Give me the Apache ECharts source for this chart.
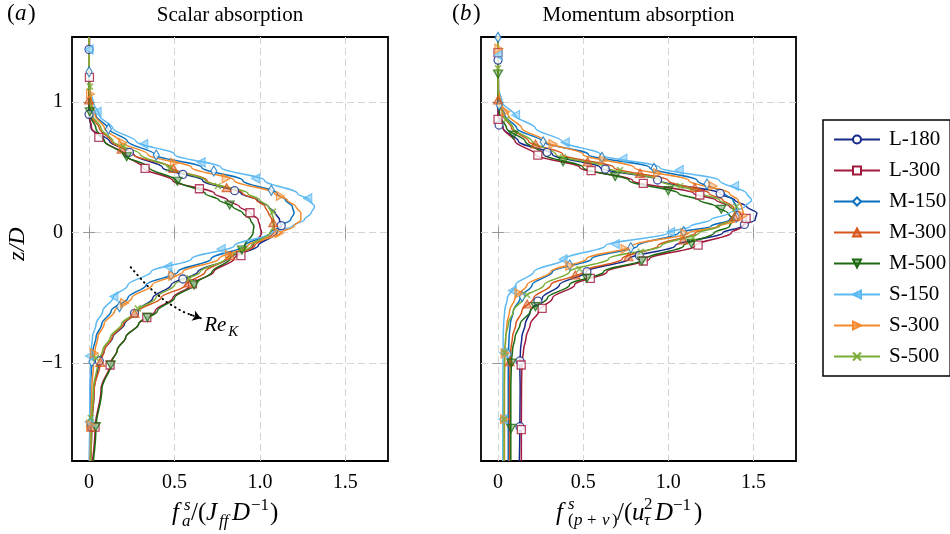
<!DOCTYPE html>
<html><head><meta charset="utf-8">
<script src="https://cdn.jsdelivr.net/npm/echarts@6/dist/echarts.min.js"></script>
<style>html,body{margin:0;padding:0;background:#fff}#c{width:950px;height:534px}</style>
</head><body><div id="c"></div>
<script>
// ---------------- data ----------------
const caseNames = ['L-180','L-300','M-150','M-300','M-500','S-150','S-300','S-500'];
const zLevels = [1.5, 1.3, 1.1, 1.0, 0.9, 0.8, 0.7, 0.6, 0.5, 0.4, 0.3, 0.25, 0.2, 0.15, 0.1, 0.05, 0, -0.1, -0.2, -0.3, -0.4, -0.5, -0.6, -0.7, -0.8, -0.9, -1.0, -1.2, -1.5, -1.75];
const xTicks = [0, 0.5, 1, 1.5];
const zTicks = [-1, 0, 1];

// (a) scalar absorption f_a^s, x values at zLevels
const sL180 = [0.002, 0.001, 0.0, 0.0, 0.0, 0.012, 0.12, 0.262, 0.43, 0.665, 0.89, 0.985, 1.05, 1.09, 1.115, 1.125, 1.1, 0.99, 0.81, 0.637, 0.48, 0.373, 0.285, 0.207, 0.139, 0.09, 0.055, 0.03, 0.015, 0.008];
const sL300 = [0.002, 0.001, 0.0, 0.0, 0.0, 0.015, 0.09, 0.21, 0.314, 0.49, 0.734, 0.81, 0.88, 0.945, 0.99, 1.0, 1.01, 0.96, 0.85, 0.73, 0.595, 0.49, 0.387, 0.29, 0.215, 0.165, 0.125, 0.07, 0.035, 0.02];
const sM150 = [0.0, 0.0, 0.003, 0.012, 0.04, 0.11, 0.225, 0.383, 0.66, 0.9, 1.1, 1.15, 1.19, 1.2, 1.18, 1.12, 1.06, 0.91, 0.715, 0.52, 0.334, 0.227, 0.129, 0.074, 0.041, 0.023, 0.015, 0.008, 0.004, 0.002];
const sM300 = [0.0, 0.0, 0.0, 0.002, 0.01, 0.06, 0.13, 0.26, 0.48, 0.69, 0.9, 0.98, 1.03, 1.05, 1.07, 1.085, 1.08, 0.97, 0.8, 0.68, 0.565, 0.42, 0.29, 0.2, 0.135, 0.09, 0.065, 0.03, 0.015, 0.01];
const sM500 = [0.0, 0.0, 0.0, 0.0, 0.005, 0.04, 0.09, 0.2, 0.35, 0.51, 0.68, 0.76, 0.84, 0.9, 0.945, 0.965, 0.96, 0.91, 0.825, 0.72, 0.61, 0.5, 0.4, 0.29, 0.215, 0.165, 0.13, 0.075, 0.04, 0.025];
const sS150 = [0.0, 0.0, 0.003, 0.025, 0.06, 0.139, 0.275, 0.5, 0.773, 1.027, 1.22, 1.29, 1.32, 1.3, 1.26, 1.19, 1.07, 0.85, 0.6, 0.363, 0.227, 0.139, 0.08, 0.041, 0.02, 0.012, 0.008, 0.005, 0.003, 0.002];
const sS300 = [0.0, 0.0, 0.005, 0.015, 0.035, 0.09, 0.18, 0.344, 0.6, 0.85, 1.086, 1.16, 1.21, 1.24, 1.24, 1.2, 1.12, 0.93, 0.76, 0.55, 0.37, 0.25, 0.15, 0.088, 0.052, 0.035, 0.026, 0.016, 0.009, 0.006];
const sS500 = [0.0, 0.0, 0.003, 0.01, 0.02, 0.07, 0.14, 0.3, 0.47, 0.68, 0.93, 1.0, 1.05, 1.07, 1.08, 1.08, 1.06, 0.95, 0.8, 0.65, 0.5, 0.39, 0.28, 0.19, 0.125, 0.08, 0.05, 0.025, 0.012, 0.008];

// (b) momentum absorption f_(p+v)^s, x values at zLevels
const mL180 = [0.0, 0.0, 0.0, 0.0, 0.0, 0.03, 0.12, 0.32, 0.6, 0.95, 1.305, 1.39, 1.46, 1.52, 1.51, 1.43, 1.32, 1.04, 0.77, 0.52, 0.36, 0.26, 0.19, 0.16, 0.14, 0.132, 0.128, 0.13, 0.128, 0.125];
const mL300 = [0.0, 0.0, 0.0, 0.0, 0.0, 0.03, 0.1, 0.22, 0.48, 0.79, 1.15, 1.28, 1.36, 1.42, 1.46, 1.44, 1.37, 1.16, 0.89, 0.64, 0.45, 0.32, 0.24, 0.19, 0.165, 0.15, 0.14, 0.138, 0.137, 0.137];
const mM150 = [0.0, 0.0, 0.0, 0.005, 0.04, 0.11, 0.26, 0.53, 0.89, 1.17, 1.33, 1.38, 1.4, 1.4, 1.36, 1.25, 1.06, 0.82, 0.55, 0.32, 0.2, 0.13, 0.09, 0.072, 0.065, 0.062, 0.06, 0.06, 0.06, 0.06];
const mM300 = [0.0, 0.0, 0.0, 0.0, 0.03, 0.08, 0.18, 0.38, 0.68, 1.0, 1.24, 1.32, 1.38, 1.4, 1.37, 1.29, 1.16, 0.94, 0.73, 0.5, 0.31, 0.21, 0.14, 0.105, 0.085, 0.075, 0.07, 0.068, 0.068, 0.068];
const mM500 = [0.0, 0.0, 0.0, 0.0, 0.01, 0.05, 0.16, 0.27, 0.5, 0.77, 1.06, 1.18, 1.28, 1.35, 1.38, 1.36, 1.27, 1.09, 0.87, 0.62, 0.42, 0.29, 0.19, 0.13, 0.1, 0.085, 0.078, 0.075, 0.075, 0.075];
const mS150 = [0.0, 0.0, 0.005, 0.025, 0.1, 0.22, 0.376, 0.6, 0.95, 1.3, 1.46, 1.49, 1.45, 1.36, 1.25, 1.13, 1.0, 0.63, 0.395, 0.21, 0.103, 0.055, 0.039, 0.033, 0.03, 0.03, 0.029, 0.028, 0.028, 0.028];
const mS300 = [0.0, 0.0, 0.003, 0.015, 0.06, 0.14, 0.28, 0.5, 0.8, 1.12, 1.36, 1.41, 1.43, 1.44, 1.42, 1.3, 1.12, 0.79, 0.52, 0.31, 0.17, 0.1, 0.068, 0.052, 0.045, 0.042, 0.04, 0.038, 0.038, 0.038];
const mS500 = [0.0, 0.0, 0.0, 0.005, 0.03, 0.09, 0.2, 0.34, 0.64, 0.95, 1.2, 1.3, 1.37, 1.39, 1.37, 1.3, 1.18, 0.96, 0.65, 0.42, 0.27, 0.15, 0.09, 0.06, 0.045, 0.04, 0.037, 0.036, 0.035, 0.035];

// marker positions [x, z]
const sL180Marks = [[0.0,1.405],[0.0,0.907],[0.236,0.616],[0.549,0.447],[0.852,0.322],[1.125,0.054],[0.549,-0.355],[0.266,-0.618],[0.06,-0.983],[0.012,-1.49]];
const sL300Marks = [[0.002,1.19],[0.057,0.73],[0.328,0.493],[0.646,0.337],[0.942,0.153],[0.889,-0.176],[0.605,-0.393],[0.338,-0.65],[0.123,-1.014],[0.035,-1.49]];
const sM150Marks = [[0.0,1.234],[0.113,0.794],[0.393,0.595],[0.73,0.473],[1.067,0.325],[0.48,-0.324],[0.178,-0.567],[0.016,-0.99],[0.004,-1.46]];
const sM300Marks = [[0.0,1.017],[0.19,0.641],[0.494,0.493],[0.805,0.345],[1.078,0.077],[0.828,-0.176],[0.58,-0.385],[0.266,-0.618],[0.066,-0.994],[0.012,-1.49]];
const sM500Marks = [[0.004,0.927],[0.22,0.582],[0.517,0.394],[0.823,0.212],[0.895,-0.133],[0.615,-0.4],[0.342,-0.649],[0.127,-1.014],[0.039,-1.487]];
const sS150Marks = [[0.0,1.405],[0.047,0.927],[0.32,0.68],[0.656,0.539],[0.975,0.416],[1.28,0.263],[0.773,-0.125],[0.461,-0.26],[0.145,-0.49],[0.002,-0.945],[0.0,-1.45]];
const sS300Marks = [[0.008,1.063],[0.197,0.69],[0.5,0.536],[0.803,0.416],[1.12,0.281],[1.113,-0.005],[0.822,-0.171],[0.49,-0.33],[0.207,-0.54],[0.031,-0.925],[0.008,-1.47]];
const sS500Marks = [[0.005,1.12],[0.2,0.66],[0.469,0.493],[0.754,0.358],[1.076,0.161],[0.89,-0.125],[0.588,-0.35],[0.285,-0.58],[0.04,-0.96],[0.01,-1.42]];

const mL180Marks = [[0.0,1.323],[0.006,0.825],[0.288,0.616],[0.63,0.488],[0.937,0.404],[1.305,0.301],[1.447,0.063],[0.83,-0.176],[0.522,-0.299],[0.234,-0.524],[0.129,-0.983],[0.129,-1.487]];
const mL300Marks = [[0.0,1.38],[0.0,0.868],[0.234,0.595],[0.547,0.475],[0.853,0.378],[1.185,0.289],[1.457,0.11],[1.175,-0.095],[0.853,-0.217],[0.542,-0.35],[0.259,-0.58],[0.136,-1.014],[0.137,-1.51]];
const mM150Marks = [[0.0,1.497],[0.006,0.978],[0.265,0.697],[0.61,0.577],[0.916,0.493],[1.227,0.373],[1.4,0.12],[1.09,0.008],[0.78,-0.115],[0.421,-0.248],[0.142,-0.49],[0.06,-0.93]];
const mM300Marks = [[0.0,1.017],[0.22,0.68],[0.526,0.544],[0.834,0.455],[1.155,0.347],[1.389,0.123],[1.087,-0.056],[0.766,-0.184],[0.454,-0.324],[0.171,-0.547],[0.068,-0.989]];
const mM500Marks = [[0.0,1.216],[0.09,0.748],[0.382,0.544],[0.688,0.43],[1.0,0.322],[1.311,0.179],[1.136,-0.082],[0.844,-0.217],[0.522,-0.35],[0.22,-0.567],[0.078,-1.0],[0.077,-1.5]];
const mS150Marks = [[0.0,1.36],[0.103,0.902],[0.395,0.692],[0.733,0.567],[1.064,0.48],[1.389,0.358],[1.013,0.005],[0.688,-0.087],[0.382,-0.204],[0.084,-0.444],[0.032,-0.92],[0.028,-1.43]];
const mS300Marks = [[0.005,1.41],[0.045,0.927],[0.323,0.679],[0.62,0.557],[0.937,0.455],[1.262,0.358],[1.44,0.13],[1.097,-0.005],[0.746,-0.125],[0.421,-0.253],[0.123,-0.465],[0.042,-0.925],[0.038,-1.43]];
const mS500Marks = [[0.0,1.26],[0.05,0.87],[0.382,0.577],[0.717,0.48],[1.07,0.358],[1.4,0.2],[1.145,-0.038],[0.838,-0.146],[0.479,-0.278],[0.171,-0.478],[0.038,-0.917],[0.035,-1.43]];

// Re_K dotted arrow path (data coords of panel a)
const reArrow = [[0.244,-0.265],[0.283,-0.324],[0.336,-0.401],[0.391,-0.464],[0.45,-0.529],[0.498,-0.567],[0.547,-0.605],[0.596,-0.63],[0.654,-0.655]];
const reLabelAt = [0.674, -0.763];

// ---------------- style ----------------
const FONT = 'Liberation Serif';
const colors = ['#14298A','#A3193D','#0A70BE','#D8561C','#1C6B10','#5DB9F3','#F38A2C','#79AC36'];
const tints  = ['#ffffff','#ffffff','#ffffff','rgba(216,86,28,0.55)','rgba(28,107,16,0.45)','rgba(93,185,243,0.6)','rgba(243,138,44,0.45)','#79AC36'];
const symbols = ['circle','rect','diamond',
  'path://M0,-1L0.866,0.5L-0.866,0.5Z',
  'path://M0,1L0.866,-0.5L-0.866,-0.5Z',
  'path://M-1,0L0.5,-0.866L0.5,0.866Z',
  'path://M1,0L-0.5,-0.866L-0.5,0.866Z',
  'path://M0,0L1,1M1,0L0,1'];
const symSizes = [8, 8, [6,10], [9,8], [9,8], [8,9], [8,9], 6];
const borderW = [1.3, 1.3, 1.2, 1.2, 1.2, 1.2, 1.2, 1.6];

const scalarX = [sL180, sL300, sM150, sM300, sM500, sS150, sS300, sS500];
const scalarM = [sL180Marks, sL300Marks, sM150Marks, sM300Marks, sM500Marks, sS150Marks, sS300Marks, sS500Marks];
const momX = [mL180, mL300, mM150, mM300, mM500, mS150, mS300, mS500];
const momM = [mL180Marks, mL300Marks, mM150Marks, mM300Marks, mM500Marks, mS150Marks, mS300Marks, mS500Marks];

function panelSeries(pi, xs, ms) {
  const out = [];
  caseNames.forEach((name, i) => {
    const itemStyle = {color: tints[i], borderColor: colors[i], borderWidth: borderW[i]};
    out.push({
      type: 'line', name, xAxisIndex: pi * 2, yAxisIndex: pi * 2,
      data: zLevels.map((z, k) => [xs[i][k], z]),
      smooth: 0.35, smoothMonotone: 'y', showSymbol: false,
      symbol: symbols[i], symbolSize: symSizes[i],
      lineStyle: {color: colors[i], width: 1.5},
      itemStyle, emphasis: {disabled: true}, silent: true, z: 2
    });
    out.push({
      type: 'scatter', name, xAxisIndex: pi * 2, yAxisIndex: pi * 2,
      data: ms[i], symbol: symbols[i], symbolSize: symSizes[i],
      itemStyle, emphasis: {disabled: true}, silent: true, z: 3
    });
  });
  return out;
}

const tickStyle = {show: true, inside: true, length: 6, lineStyle: {color: '#999', width: 1}};
function xAxesFor(gi) {
  return [
    {type: 'value', gridIndex: gi, position: 'bottom', min: -0.1, max: 1.75,
     axisLine: {show: false},
     axisTick: Object.assign({customValues: xTicks}, tickStyle),
     axisLabel: {customValues: xTicks, margin: 12, fontFamily: FONT, fontSize: 20, color: '#000',
                 formatter: v => v === 0 ? '0' : v.toFixed(1)},
     splitLine: {show: true, lineStyle: {type: [7, 4], color: '#d4d4d4', width: 1}}},
    {type: 'value', gridIndex: gi, position: 'top', min: -0.1, max: 1.75,
     axisLine: {show: false},
     axisTick: Object.assign({customValues: xTicks}, tickStyle),
     axisLabel: {show: false}, splitLine: {show: false}}
  ];
}
function yAxesFor(gi, labels) {
  return [
    {type: 'value', gridIndex: gi, position: 'left', min: -1.75, max: 1.5,
     axisLine: {show: false},
     axisTick: Object.assign({customValues: zTicks}, tickStyle),
     axisLabel: {show: labels, customValues: zTicks, margin: 9, fontFamily: FONT, fontSize: 20, color: '#000',
                 formatter: v => v < 0 ? '\u2212' + Math.abs(v) : String(v)},
     splitLine: {show: true, lineStyle: {type: [7, 4], color: '#d4d4d4', width: 1}}},
    {type: 'value', gridIndex: gi, position: 'right', min: -1.75, max: 1.5,
     axisLine: {show: false},
     axisTick: Object.assign({customValues: zTicks}, tickStyle),
     axisLabel: {show: false}, splitLine: {show: false}}
  ];
}

const series = [].concat(panelSeries(0, scalarX, scalarM), panelSeries(1, momX, momM));
const dotStyle = {color: '#000', width: 2, type: [0.5, 4.5], cap: 'round', opacity: 1};
series.push({
  type: 'lines', coordinateSystem: 'cartesian2d', xAxisIndex: 0, yAxisIndex: 0,
  polyline: true, silent: true, z: 4, lineStyle: dotStyle,
  data: [{coords: reArrow}]
});
series.push({
  type: 'lines', coordinateSystem: 'cartesian2d', xAxisIndex: 0, yAxisIndex: 0,
  polyline: false, silent: true, z: 4,
  symbol: ['none', 'arrow'], symbolSize: 8, lineStyle: dotStyle,
  data: [{coords: reArrow.slice(-2)}]
});

const option = {
  animation: false,
  backgroundColor: '#fff',
  grid: [
    {left: 72, top: 37, width: 316, height: 424, show: true, borderColor: '#000', borderWidth: 1.8, backgroundColor: 'transparent'},
    {left: 481, top: 37, width: 315, height: 424, show: true, borderColor: '#000', borderWidth: 1.8, backgroundColor: 'transparent'}
  ],
  xAxis: [].concat(xAxesFor(0), xAxesFor(1)),
  yAxis: [].concat(yAxesFor(0, true), yAxesFor(1, false)),
  legend: {
    data: caseNames, orient: 'vertical', left: 823, top: 120,
    padding: [9, 4, 9, 10], itemGap: 10, itemWidth: 46, itemHeight: 10,
    borderColor: '#000', borderWidth: 1.5, backgroundColor: '#fff',
    selectedMode: false,
    textStyle: {fontFamily: FONT, fontSize: 21, color: '#000', padding: [0, 0, 0, 4]}
  },
  series
};

const chart = echarts.init(document.getElementById('c'), null, {renderer: 'canvas'});
chart.setOption(option);

// ---------------- text (titles, axis names) ----------------
function t(s, x, base, size, italic, align) {
  return {type: 'text', x: x, y: base - 0.33 * size, silent: true, z: 10,
    style: {text: s, font: (italic ? 'italic ' : '') + size + 'px "Liberation Serif", serif', fill: '#000',
            textAlign: align || 'left', textVerticalAlign: 'middle'}};
}
const g = [
  t('(', 7, 22, 23), t('a', 15, 22, 23, true), t(')', 28, 22, 23),
  t('Scalar absorption', 230, 22, 21, false, 'center'),
  t('(', 452, 22, 23), t('b', 460, 22, 23, true), t(')', 473, 22, 23),
  t('Momentum absorption', 638.5, 22, 21, false, 'center'),
  // left x title
  t('f', 172, 522, 25, true), t('s', 184, 511, 17, true), t('a', 182, 527, 17, true),
  t('/(', 191, 522, 25), t('J', 206, 522, 25, true), t('ff', 219, 527, 17, true),
  t('D', 232, 522, 25, true), t('\u22121', 251, 511, 17), t(')', 270, 522, 25),
  // right x title
  t('f', 556, 522, 25, true), t('s', 568, 510, 17, true),
  t('(', 568, 526, 17), t('p', 574, 526, 17, true), t('+', 587, 526, 17), t('v', 602, 526, 17, true), t(')', 612, 526, 17),
  t('/(', 617, 522, 25), t('u', 632, 522, 25, true), t('2', 644, 510, 17), t('\u03c4', 644, 526, 17, true),
  t('D', 655, 522, 25, true), t('\u22121', 673, 511, 17), t(')', 694, 522, 25),
  {type: 'text', x: 18, y: 244, rotation: Math.PI / 2, silent: true, z: 10,
   style: {text: 'z/D', font: 'italic 24px "Liberation Serif", serif', fill: '#000', textAlign: 'center', textVerticalAlign: 'middle'}}
];
const rp = chart.convertToPixel({gridIndex: 0}, reLabelAt);
g.push(t('Re', rp[0], rp[1], 21, true), t('K', rp[0] + 24, rp[1] + 5, 15, true));
chart.setOption({graphic: g});
</script></body></html>
